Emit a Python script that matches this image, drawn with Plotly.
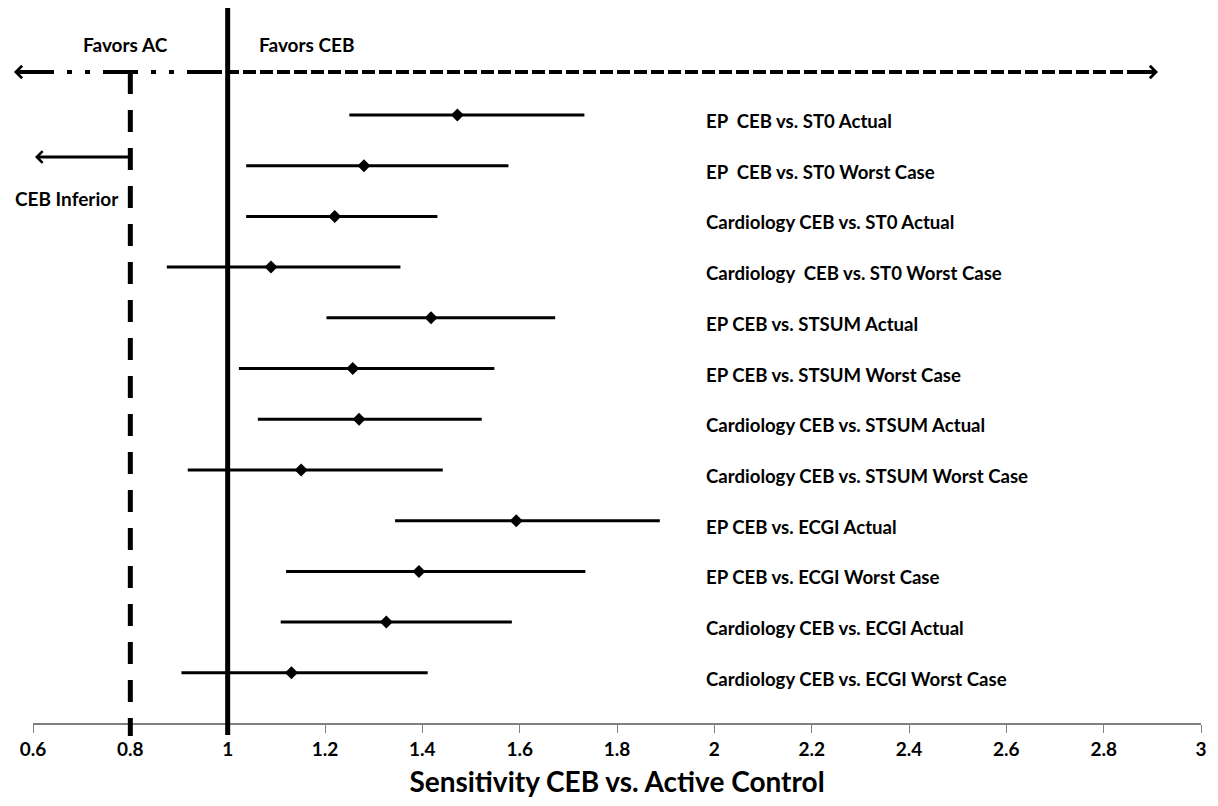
import plotly.graph_objects as go

# ---------------- data ----------------
labels = [
    "EP  CEB vs. ST0 Actual",
    "EP  CEB vs. ST0 Worst Case",
    "Cardiology CEB vs. ST0 Actual",
    "Cardiology  CEB vs. ST0 Worst Case",
    "EP CEB vs. STSUM Actual",
    "EP CEB vs. STSUM Worst Case",
    "Cardiology CEB vs. STSUM Actual",
    "Cardiology CEB vs. STSUM Worst Case",
    "EP CEB vs. ECGI Actual",
    "EP CEB vs. ECGI Worst Case",
    "Cardiology CEB vs. ECGI Actual",
    "Cardiology CEB vs. ECGI Worst Case",
]
sensitivity = [1.472, 1.280, 1.220, 1.089, 1.418, 1.257, 1.270, 1.151, 1.593, 1.393, 1.326, 1.131]
ci_lower = [1.250, 1.038, 1.038, 0.875, 1.203, 1.023, 1.062, 0.918, 1.344, 1.120, 1.109, 0.905]
ci_upper = [1.733, 1.577, 1.431, 1.355, 1.673, 1.548, 1.522, 1.442, 1.888, 1.735, 1.584, 1.411]

tick_values = [0.6, 0.8, 1.0, 1.2, 1.4, 1.6, 1.8, 2.0, 2.2, 2.4, 2.6, 2.8, 3.0]
tick_labels = ["0.6", "0.8", "1", "1.2", "1.4", "1.6", "1.8", "2", "2.2", "2.4", "2.6", "2.8", "3"]

x_title = "Sensitivity CEB vs. Active Control"
no_difference = 1.0
inferiority_margin = 0.8
favors_ac_text = "Favors AC"
favors_ceb_text = "Favors CEB"
inferior_text = "CEB Inferior"

# ---------------- layout geometry (figure pixels) ----------------
W, H = 1218, 806
ML, MR, MT, MB = 33, 17, 8, 83
PW, PH = W - ML - MR, H - MT - MB


def px_x(px):
    return (px - ML) / PW


def px_y(py):
    return (H - MB - py) / PH


FONT = "Lato"
BLACK = "#000000"
LABEL_SIZE = 18.6
HEADER_SIZE = 19

shown_labels = [s.replace("  ", " \u00a0") for s in labels]
err_plus = [u - m for u, m in zip(ci_upper, sensitivity)]
err_minus = [m - l for m, l in zip(sensitivity, ci_lower)]

fig = go.Figure()
fig.add_trace(go.Scatter(
    x=sensitivity,
    y=labels,
    mode="markers",
    marker=dict(symbol="diamond", size=10, color=BLACK, line=dict(width=0)),
    error_x=dict(type="data", symmetric=False, array=err_plus, arrayminus=err_minus,
                 thickness=3, width=0, color=BLACK),
    showlegend=False,
    hoverinfo="x+y",
))

shapes = [
    # solid no-difference line
    dict(type="line", xref="x", yref="paper", x0=no_difference, x1=no_difference,
         y0=px_y(735), y1=px_y(8), line=dict(color=BLACK, width=5), layer="above"),
    # dashed inferiority margin line (pattern from top)
    dict(type="line", xref="x", yref="paper", x0=inferiority_margin, x1=inferiority_margin,
         y0=px_y(72), y1=px_y(736), line=dict(color=BLACK, width=5, dash="22px,16px"), layer="above"),
    # top dash-dot arrow (favors AC side)
    dict(type="line", xref="paper", yref="paper", x0=px_x(19), x1=px_x(224),
         y0=px_y(72), y1=px_y(72),
         line=dict(color=BLACK, width=4, dash="35px,13px,5px,13px,5px,13px"), layer="above"),
    # top dashed arrow (favors CEB side)
    dict(type="line", xref="paper", yref="paper", x0=px_x(226), x1=px_x(1152),
         y0=px_y(72), y1=px_y(72),
         line=dict(color=BLACK, width=4, dash="13px,4px"), layer="above"),
]

annotations = []
for lab, txt in zip(labels, shown_labels):
    annotations.append(dict(
        x=px_x(704), xref="paper", y=lab, yref="y", text=txt, showarrow=False,
        xanchor="left", yanchor="middle", yshift=-6,
        font=dict(family=FONT, size=LABEL_SIZE, color=BLACK, weight="bold"),
    ))

# header texts
annotations += [
    dict(x=px_x(125), y=px_y(45), xref="paper", yref="paper", text=favors_ac_text,
         showarrow=False, xanchor="center", yanchor="middle",
         font=dict(family=FONT, size=HEADER_SIZE, color=BLACK, weight="bold")),
    dict(x=px_x(257), y=px_y(45), xref="paper", yref="paper", text=favors_ceb_text,
         showarrow=False, xanchor="left", yanchor="middle",
         font=dict(family=FONT, size=HEADER_SIZE, color=BLACK, weight="bold")),
    dict(x=px_x(13), y=px_y(198), xref="paper", yref="paper", text=inferior_text,
         showarrow=False, xanchor="left", yanchor="middle",
         font=dict(family=FONT, size=HEADER_SIZE, color=BLACK, weight="bold")),
]

# arrowheads
annotations += [
    dict(x=px_x(14), y=px_y(72), xref="paper", yref="paper", text="",
         showarrow=True, ax=22, ay=0, arrowhead=4, arrowsize=0.6, arrowwidth=4,
         arrowcolor=BLACK),
    dict(x=px_x(1158), y=px_y(72), xref="paper", yref="paper", text="",
         showarrow=True, ax=-22, ay=0, arrowhead=4, arrowsize=0.6, arrowwidth=4,
         arrowcolor=BLACK),
    dict(x=px_x(35), y=px_y(157), xref="paper", yref="paper", text="",
         showarrow=True, ax=95, ay=0, arrowhead=4, arrowsize=0.75, arrowwidth=3,
         arrowcolor=BLACK),
]

fig.update_layout(
    width=W, height=H,
    margin=dict(l=ML, r=MR, t=MT, b=MB, pad=0),
    plot_bgcolor="white", paper_bgcolor="white",
    shapes=shapes, annotations=annotations,
    font=dict(family=FONT, color=BLACK),
    xaxis=dict(
        range=[tick_values[0], tick_values[-1]],
        tickmode="array", tickvals=tick_values, ticktext=tick_labels,
        showgrid=False, zeroline=False,
        showline=True, linecolor="#7f7f7f", linewidth=1.5,
        ticks="outside", ticklen=8, tickwidth=1, tickcolor="#7f7f7f",
        tickfont=dict(family=FONT, size=19, color=BLACK, weight="bold"),
        title=dict(text=x_title, standoff=14,
                   font=dict(family=FONT, size=28, color=BLACK, weight="bold")),
    ),
    yaxis=dict(
        type="category", categoryorder="array", categoryarray=labels,
        range=[11.99, -2.11],
        showticklabels=False, showgrid=False, zeroline=False, showline=False, ticks="",
    ),
)

fig.write_html("out.html", config={"displayModeBar": False},
               post_script="document.body.style.margin='0';")
